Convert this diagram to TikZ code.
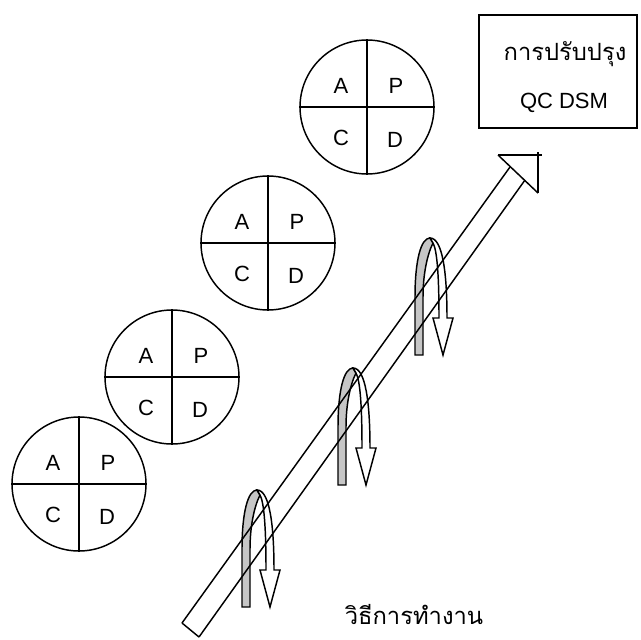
\documentclass[tikz,border=0pt]{standalone}
\usepackage{fontspec}
\setmainfont{Liberation Sans}
\newfontfamily\thaifont[Script=Thai]{Loma}
\usepackage{tikz}

\begin{document}
\begin{tikzpicture}[x=0.75pt,y=-0.75pt,line width=1.1pt]
            \tikzstyle{pdca}=[circle, minimum size = 100.5pt, inner sep=0pt, draw = black]
            \tikzstyle{letter}=[font=\fontsize{16.5}{19}\selectfont]
            \tikzstyle{thai}=[font=\thaifont\fontsize{17.8}{21}\selectfont]
            \useasboundingbox (0,0) rectangle (641,639);
            % the four PDCA wheels, bottom to top
            {\node[pdca] (c4) at (79,484){};
            \node[pdca] (c3) at (172,377){};
            \node[pdca] (c2) at (268,243){};
            \node[pdca] (c1) at (367,107){};}
            \foreach \c/\x/\y in {c4/79/484, c3/172/377, c2/268/243, c1/367/107}{
                \draw (\c.north) -- (\c.south);
                \draw (\c.west) -- (\c.east);
                \node[letter] (\c a) at (\x-26,\y-21){A};
                \node[letter] (\c p) at (\x+29,\y-21){P};
                \node[letter] (\c c) at (\x-26,\y+31){C};
                \node[letter] (\c d) at (\x+28,\y+33){D};
            }
            % box with the goal
            \node[rectangle, draw = black, minimum width = 118.5pt, minimum height = 84.75pt] (goal) at (558,71.5){};
            \node[thai] (goal1) at (565,54){การปรับปรุง};
            \node[letter] (goal2) at (564,103){QC DSM};
            % turning arrows round the shaft
            \foreach \bx/\by in {415/355, 338/485, 242/607}{
                \begin{scope}[shift={(\bx,\by)}]
                \filldraw[fill=gray!45] (0,0) -- (0,-58) .. controls (0,-95) and (6,-117) .. (15,-117)
                    -- (18,-112) .. controls (12,-100) and (8,-80) .. (8,-58) -- (8,0) -- cycle;
                \filldraw[fill=white] (15,-117) .. controls (28,-117) and (32,-80) .. (32,-37)
                    -- (38,-37) -- (28,0) -- (18,-37) -- (24,-37)
                    .. controls (24,-80) and (22,-105) .. (18,-112) -- cycle;
                \end{scope}
            }
            % the shaft and its open head
            \coordinate (s1) at (182,623);
            \coordinate (s2) at (199,637);
            \coordinate (h1) at (510,167);
            \coordinate (h2) at (525,180);
            \draw (s1) -- (h1);
            \draw (s2) -- (h2);
            \draw (s1) -- (s2);
            \draw (498,155) -- (538,193);
            \draw (498,155) -- (542,155);
            \draw (538,152) -- (538,193);
            \node[thai] (way) at (414,614){วิธีการทำงาน};
\end{tikzpicture}
\end{document}
